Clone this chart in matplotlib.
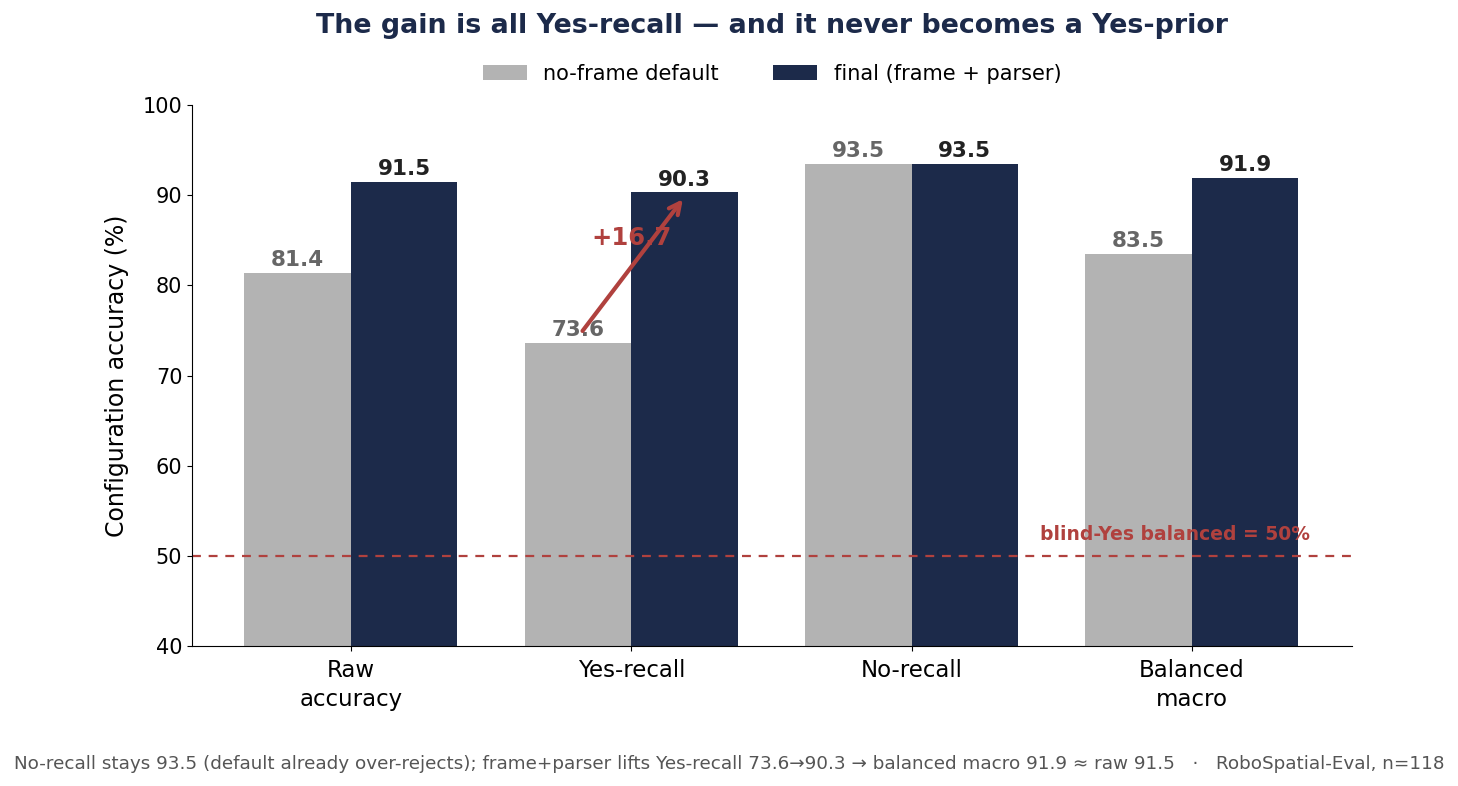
import numpy as np
import matplotlib
matplotlib.use('Agg')
import matplotlib.pyplot as plt

categories = ['Raw\naccuracy', 'Yes-recall', 'No-recall', 'Balanced\nmacro']
default_vals = [81.4, 73.6, 93.5, 83.5]
final_vals = [91.5, 90.3, 93.5, 91.9]
series_names = ['no-frame default', 'final (frame + parser)']

grey = '#b3b3b3'
navy = '#1c2a4a'
red = '#b0413e'

fig, ax = plt.subplots(figsize=(14.58, 7.86), dpi=100)
fig.subplots_adjust(left=0.1317, right=0.9273, top=0.8664, bottom=0.178)

x = np.arange(len(categories))
w = 0.38
b1 = ax.bar(x - w / 2, default_vals, w, color=grey, label=series_names[0])
b2 = ax.bar(x + w / 2, final_vals, w, color=navy, label=series_names[1])

for rect, v in zip(b1, default_vals):
    ax.text(rect.get_x() + rect.get_width() / 2, v + 0.3, f'{v:.1f}', ha='center', va='bottom',
            fontsize=15.5, fontweight='bold', color='#666666')
for rect, v in zip(b2, final_vals):
    ax.text(rect.get_x() + rect.get_width() / 2, v + 0.3, f'{v:.1f}', ha='center', va='bottom',
            fontsize=15.5, fontweight='bold', color='#222222')

# blind-Yes reference
ax.axhline(50, color=red, linestyle='--', linewidth=1.6, dashes=(4, 3.5))
ax.text(3.42, 51.3, 'blind-Yes balanced = 50%', ha='right', va='bottom',
        fontsize=13.5, fontweight='bold', color=red)

# gain arrow on Yes-recall
ax.annotate('', xy=(1.19, 89.8), xytext=(0.82, 74.7),
            arrowprops=dict(arrowstyle='->', color=red, lw=3, mutation_scale=20))
ax.text(1.0, 85.2, f'+{final_vals[1] - default_vals[1]:.1f}', ha='center', va='center',
        fontsize=17.5, fontweight='bold', color=red)

ax.set_ylim(40, 100)
ax.set_xlim(-0.567, 3.571)
ax.set_xticks(x)
ax.set_xticklabels(categories, fontsize=16.5, linespacing=1.3)
ax.tick_params(axis='x', pad=6)
ax.tick_params(axis='y', labelsize=15)
ax.set_ylabel('Configuration accuracy (%)', fontsize=17, labelpad=10)
ax.spines['top'].set_visible(False)
ax.spines['right'].set_visible(False)

ax.set_title('The gain is all Yes-recall — and it never becomes a Yes-prior',
             fontsize=19.4, fontweight='bold', color=navy, pad=52)
ax.legend(loc='lower center', bbox_to_anchor=(0.5, 1.005), ncol=2, frameon=False,
          fontsize=15, columnspacing=2.6, handlelength=2.1)
fig.text(0.5, 0.022, 'No-recall stays 93.5 (default already over-rejects); frame+parser lifts Yes-recall 73.6\u219290.3 '
         '\u2192 balanced macro 91.9 \u2248 raw 91.5   \u00b7   RoboSpatial-Eval, n=118',
         ha='center', fontsize=13.2, color='#555555')

fig.savefig('out.png', dpi=100)
